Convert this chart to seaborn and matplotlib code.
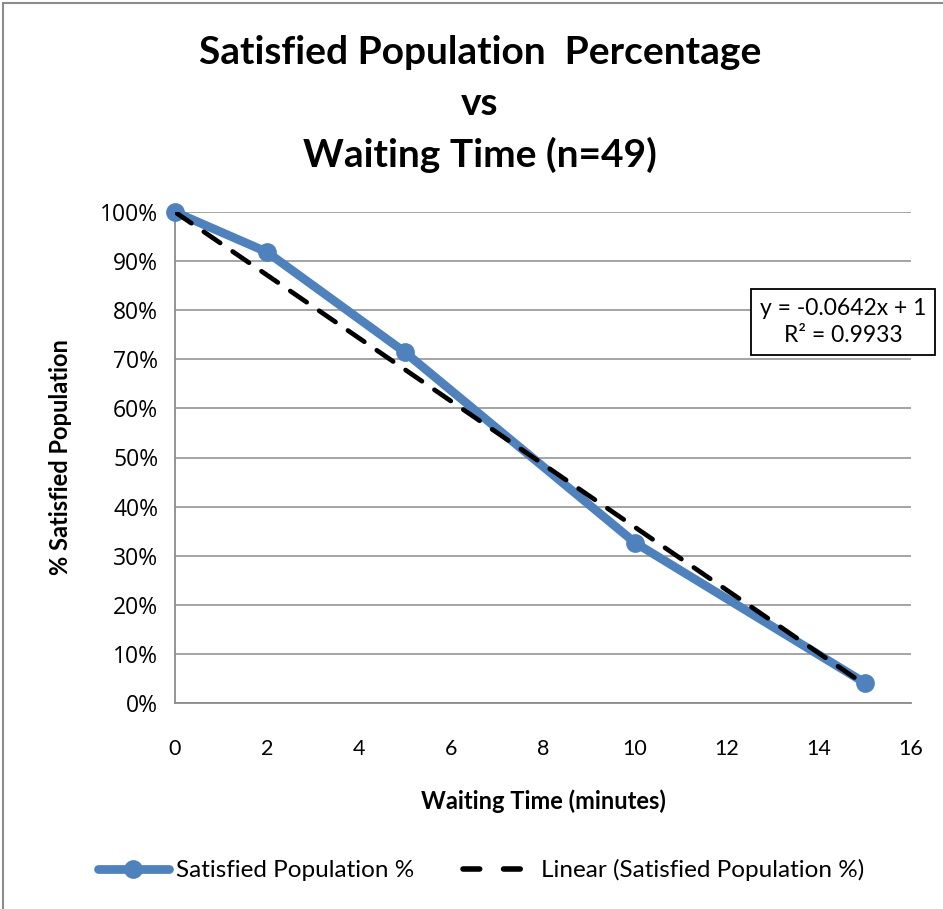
import matplotlib
matplotlib.use("Agg")
import matplotlib.pyplot as plt
from matplotlib.patches import Rectangle
import seaborn as sns
import pandas as pd
import numpy as np

# Survey results: share of respondents still satisfied after each waiting time
waiting_minutes = [0, 2, 5, 10, 15]
satisfied_share = [1.0, 45 / 49, 35 / 49, 16 / 49, 2 / 49]

# Linear trendline (intercept fixed at 1)
trend_slope = -0.0642
trend_intercept = 1.0
trend_r2 = 0.9933

x_ticks = [0, 2, 4, 6, 8, 10, 12, 14, 16]
y_ticks = [0.0, 0.1, 0.2, 0.3, 0.4, 0.5, 0.6, 0.7, 0.8, 0.9, 1.0]
y_tick_labels = ["0%", "10%", "20%", "30%", "40%", "50%", "60%", "70%", "80%", "90%", "100%"]

sns.set_theme(style="white")
plt.rcParams["font.family"] = ["Lato", "DejaVu Sans"]
plt.rcParams["text.color"] = "black"
plt.rcParams["axes.labelcolor"] = "black"

W, H = 943, 909
fig = plt.figure(figsize=(W / 100, H / 100), dpi=100)
ax = fig.add_axes([175 / W, 1 - 703 / H, (911 - 175) / W, (703 - 212) / H])

df = pd.DataFrame({"Waiting Time": waiting_minutes, "Satisfied": satisfied_share})
blue = "#4F81BD"
sns.lineplot(data=df, x="Waiting Time", y="Satisfied", ax=ax, color=blue,
             linewidth=6.3, marker="o", markersize=13.5, markeredgewidth=0,
             label="Satisfied Population %", zorder=3, clip_on=False)

trend_x = np.array([waiting_minutes[0], waiting_minutes[-1]], dtype=float)
trend_df = pd.DataFrame({"Waiting Time": trend_x,
                         "Satisfied": trend_slope * trend_x + trend_intercept})
sns.lineplot(data=trend_df, x="Waiting Time", y="Satisfied", ax=ax, color="black",
             linewidth=3.4, dashes=False, label="Linear (Satisfied Population %)",
             zorder=4)
ax.lines[-1].set_dashes([4.2, 3.2])
ax.lines[-1].set_dash_capstyle("round")

ax.set_xlim(0, 16)
ax.set_ylim(0, 1)
ax.set_xticks(x_ticks)
ax.set_xticklabels([str(t) for t in x_ticks], fontsize=15.5)
ax.set_yticks(y_ticks)
ax.set_yticklabels(y_tick_labels, fontsize=16.5, family=["Open Sans"])
ax.yaxis.grid(True, color="#8c8c8c", linewidth=1.1)
ax.xaxis.grid(False)
for s in ["top", "right"]:
    ax.spines[s].set_visible(False)
for s in ["left", "bottom"]:
    ax.spines[s].set_color("#8c8c8c")
    ax.spines[s].set_linewidth(1.3)
ax.tick_params(axis="x", direction="out", length=8, width=1.2, color="#8c8c8c",
               pad=18, labelcolor="black")
ax.tick_params(axis="y", direction="out", length=6, width=1.2, color="#8c8c8c",
               pad=6, labelcolor="black")

ax.set_xlabel("Waiting Time (minutes)", fontsize=17, fontweight="bold", labelpad=22)
ax.set_ylabel("% Satisfied Population", fontsize=17, fontweight="bold", labelpad=20)

fig.text(480 / W, 1 - 104 / H,
         "Satisfied Population  Percentage\nvs\nWaiting Time (n=49)",
         ha="center", va="center", fontsize=28, fontweight="bold",
         linespacing=1.55)

ax.text(843 / W, 1 - 322 / H,
        f"y = {trend_slope}x + {trend_intercept:g}\nR² = {trend_r2}",
        transform=fig.transFigure, ha="center", va="center", fontsize=16.5,
        linespacing=1.4,
        bbox=dict(boxstyle="square,pad=0.38", facecolor="white",
                  edgecolor="black", linewidth=1.3), zorder=6)

leg = ax.legend(loc="center", bbox_to_anchor=(481 / W, 1 - 870 / H),
                bbox_transform=fig.transFigure, ncol=2, frameon=False,
                fontsize=17.5, handlelength=2.9, columnspacing=2.0,
                handletextpad=0.3)
leg_lines = leg.get_lines()
leg_lines[1].set_linewidth(4.0)
leg_lines[1].set_dashes([3.0, 4.3])
leg_lines[1].set_dash_capstyle("round")

fig.patches.append(Rectangle((3 / W, -0.01), 1.0, 1 - 3 / H + 0.01,
                             transform=fig.transFigure, fill=False,
                             edgecolor="#8c8c8c", linewidth=1.5))

fig.savefig("out.png", dpi=100)
